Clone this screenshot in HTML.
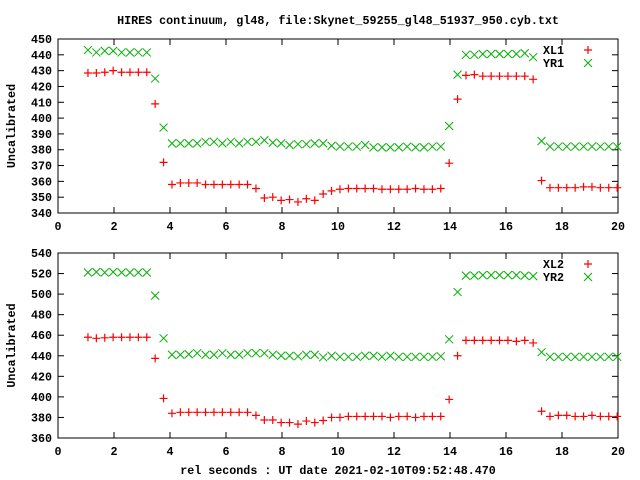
<!DOCTYPE html>
<html><head><meta charset="utf-8"><style>
html,body{margin:0;padding:0;background:#fff;}
svg{display:block;}
text{font-family:"Liberation Mono",monospace;font-weight:bold;font-size:11.7px;fill:#000;}
</style></head><body>
<svg id="chart" width="640" height="480" xmlns="http://www.w3.org/2000/svg">
<text x="338" y="24" text-anchor="middle">HIRES continuum, gl48, file:Skynet_59255_gl48_51937_950.cyb.txt</text>
<text x="338" y="474" text-anchor="middle">rel seconds : UT date 2021-02-10T09:52:48.470</text>
</svg>
<script>
const times = [1.07,1.37,1.67,1.97,2.27,2.57,2.87,3.17,3.47,3.77,4.07,4.37,4.67,4.97,5.27,5.57,5.87,6.17,6.47,6.77,7.07,7.37,7.67,7.97,8.27,8.57,8.87,9.17,9.47,9.77,10.07,10.37,10.67,10.97,11.27,11.57,11.87,12.17,12.47,12.77,13.07,13.37,13.67,13.97,14.27,14.57,14.87,15.17,15.47,15.77,16.07,16.37,16.67,16.97,17.27,17.57,17.87,18.17,18.47,18.77,19.07,19.37,19.67,19.97];
const xl1 = [428.5,428.5,429,430,429,429,429,429,409,372,358,359,359,359,358,358,358,358,358,358,355.5,349.5,350,348,348.5,347,349,348,352,354,355,355.5,355.5,355.5,355.5,355,355,355,355,355.5,355,355,355.5,371.5,412,427,427.5,426.5,426.5,426.5,426.5,426.5,426.5,424.5,360.5,356,356,356,356,356.5,356.5,356,356,356];
const yr1 = [443,441.5,442.5,442.5,441.5,441.5,441.5,441.5,425,394,384,384,384,384,385,385,384,385,384,385,385,386,384.5,384,383,383.5,383.5,384,384,382.5,382,382,382,383,381.5,381.5,381.5,381.5,382,381.5,381.5,382,382,395,427.5,440,440,440.5,440.5,440.5,440.5,440.5,441,438.5,385.5,382,382,382,382,382,382,382,382,382];
const xl2 = [458,457,457.5,458,458,458,458,458,437.5,398.5,384,385,385,385,385,385,385,385,385,385,382,377.5,377.5,375,375,373.5,376.5,375,377,380,380,381,381,381,381,381,380,381,381,380,381,381,381,397.5,440,455,455,455,455,455,455,454,455,452.5,386,381,382,382,381,381,382,381,381,381];
const yr2 = [521,521.5,521,521.5,521,521,521,521,498.5,457,441,441,441.5,442.5,441,441,442.5,441,441,442.5,442.5,442.5,441,440,440,439.5,441,441,438.5,440,439,439,439,440,440,439,440,439,439,439,439,439,439.5,456,502,518,518,518.5,518.5,518.5,518.5,518.5,518,517.5,443.5,439,439,439,439,439,439,439,439,439];
const xTicks = [0,2,4,6,8,10,12,14,16,18,20];
const yTicksTop = [340,350,360,370,380,390,400,410,420,430,440,450];
const yTicksBot = [360,380,400,420,440,460,480,500,520,540];

const NS="http://www.w3.org/2000/svg";
const svg=document.getElementById('chart');
function mk(tag,attrs,parent){const e=document.createElementNS(NS,tag);for(const k in attrs)e.setAttribute(k,attrs[k]);(parent||svg).appendChild(e);return e;}
const L=58,R=618;
function xs(v){return L+(v-0)/(20-0)*(R-L);}

function panel(pi,top,bot,ymin,ymax,yTicks,s1,s2,n1,n2,ytitle){
  const ys=v=>bot-(v-ymin)/(ymax-ymin)*(bot-top);
  const g=mk('g',{});
  
  
  const fr=mk('rect',{x:L,y:top,width:R-L,height:bot-top,fill:'none',stroke:'#000','stroke-width':1},g);
  
  
  xTicks.forEach(t=>{
    const x=xs(t);
    mk('line',{x1:x,y1:bot,x2:x,y2:bot-6,stroke:'#000'},g);
    mk('line',{x1:x,y1:top,x2:x,y2:top+6,stroke:'#000'},g);
    const tx=mk('text',{x:x,y:bot+17,'text-anchor':'middle'},g);
    tx.textContent=t;
    
    
  });
  yTicks.forEach(t=>{
    const y=ys(t);
    mk('line',{x1:L,y1:y,x2:L+6,y2:y,stroke:'#000'},g);
    mk('line',{x1:R,y1:y,x2:R-6,y2:y,stroke:'#000'},g);
    const tx=mk('text',{x:52,y:y+4,'text-anchor':'end'},g);
    tx.textContent=t;
    
    
  });
  const yt=mk('text',{x:15,y:(top+bot)/2,'text-anchor':'middle',transform:'rotate(-90 15 '+((top+bot)/2)+')'},g);
  yt.textContent=ytitle;
  
  
  function plus(x,y,c,p){mk('path',{d:`M${x-4},${y}H${x+4}M${x},${y-4}V${y+4}`,stroke:c,'stroke-width':1.2,fill:'none'},p);}
  function cross(x,y,c,p){mk('path',{d:`M${x-4},${y-4}L${x+4},${y+4}M${x-4},${y+4}L${x+4},${y-4}`,stroke:c,'stroke-width':1,fill:'none'},p);}
  const g1=mk('g',{},g);
  
  
  s1.forEach((v,i)=>plus(xs(times[i]),ys(v),'#ff0000',g1));
  const g2=mk('g',{},g);
  
  
  s2.forEach((v,i)=>cross(xs(times[i]),ys(v),'#00b000',g2));
  [[n1,'#ff0000',plus],[n2,'#00b000',cross]].forEach((e,k)=>{
    const ly=top+11+k*13;
    const lg=mk('g',{},g);
    
    
    const t=mk('text',{x:543,y:ly+4},lg);t.textContent=e[0];
    e[2](588,ly,e[1],lg);
  });
}
panel(1,39,213,340,450,yTicksTop,xl1,yr1,'XL1','YR1','Uncalibrated');
panel(2,253,438,360,540,yTicksBot,xl2,yr2,'XL2','YR2','Uncalibrated');
</script>
</body></html>
